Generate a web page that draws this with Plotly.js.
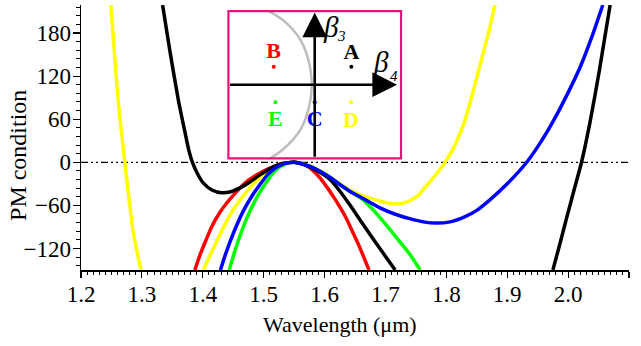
<!DOCTYPE html>
<html>
<head>
<meta charset="utf-8">
<script src="https://cdn.plot.ly/plotly-3.0.1.min.js"></script>
<style>
  html, body { margin: 0; padding: 0; background: #fff; }
  #chart { width: 641px; height: 346px; }
</style>
</head>
<body>
<div id="chart"></div>
<script>
// Curve A (black): left branch, local minimum, peak and descent
const blackX = [1.334, 1.346, 1.36, 1.37, 1.377, 1.383, 1.392, 1.401, 1.415, 1.431, 1.446, 1.461, 1.478, 1.494, 1.51, 1.527, 1.54, 1.55, 1.565, 1.578, 1.5925, 1.609, 1.625, 1.642, 1.658, 1.675, 1.695, 1.716];
const blackY = [219, 155, 86, 45, 17, 0, -17, -29, -38.5, -42.4, -41, -35.7, -27, -17.5, -9, -2.8, -0.5, 0, -2.8, -7.5, -14, -24, -40, -60, -80, -101, -125, -150];
// Curve A (black): right branch
const blackX2 = [1.975, 1.987, 1.998, 2.01, 2.022, 2.036, 2.051, 2.069];
const blackY2 = [-150, -112, -76, -38, 0, 56, 126, 219];

// Curve B (red)
const redX = [1.387, 1.395, 1.404, 1.415, 1.428, 1.44, 1.45, 1.461, 1.475, 1.494, 1.51, 1.527, 1.54, 1.55, 1.56, 1.57, 1.58, 1.5925, 1.605, 1.615, 1.625, 1.635, 1.645, 1.658, 1.673];
const redY = [-150, -130, -111, -89, -70, -56, -46, -36, -25, -15, -8, -2.6, -0.5, 0, -1.2, -4.5, -10.5, -21.8, -36, -48.5, -62, -77, -95, -119, -150];

// Curve C (blue)
const blueX = [1.429, 1.437, 1.445, 1.455, 1.4665, 1.48, 1.494, 1.506, 1.519, 1.532, 1.542, 1.55, 1.565, 1.578, 1.5925, 1.61, 1.625, 1.64, 1.658, 1.675, 1.691, 1.715, 1.74, 1.762, 1.784, 1.806, 1.83, 1.85, 1.872, 1.9, 1.932, 1.955, 1.976, 2.0, 2.02, 2.04, 2.057];
const blueY = [-150, -129, -110, -89, -68, -48, -31, -17.5, -7.9, -2.5, -0.5, 0, -2.5, -6.5, -12.5, -21.5, -31, -39.5, -48, -56, -63.5, -72, -78.5, -83, -84.7, -83, -76, -67, -52, -30, 0, 28, 58, 97, 133, 177, 219];

// Curve D (yellow): left branch
const yellowX1 = [1.249, 1.261, 1.272, 1.286, 1.2985];
const yellowY1 = [219, 86.5, 0, -98.6, -150];
// Curve D (yellow): main branch
const yellowX = [1.401, 1.41, 1.423, 1.433, 1.445, 1.46, 1.4775, 1.495, 1.51, 1.525, 1.54, 1.55, 1.565, 1.58, 1.5925, 1.61, 1.625, 1.64, 1.658, 1.675, 1.691, 1.705, 1.718, 1.73, 1.74, 1.755, 1.768, 1.783, 1.798, 1.81, 1.82, 1.83, 1.84, 1.855, 1.868, 1.88];
const yellowY = [-150, -133, -110, -92, -72.8, -54, -35.7, -20, -10.3, -4.5, -0.8, 0, -2.2, -6.5, -12, -21, -30, -38, -45, -50, -54, -57, -58, -56.5, -53.5, -45, -32, -17, 0, 17, 35, 57, 86, 134, 176, 219];

// Curve E (green)
const greenX = [1.4436, 1.45, 1.458, 1.467, 1.4775, 1.49, 1.502, 1.513, 1.524, 1.535, 1.543, 1.55, 1.565, 1.578, 1.5925, 1.61, 1.625, 1.64, 1.658, 1.675, 1.691, 1.705, 1.72, 1.74, 1.757];
const greenY = [-150, -131, -110, -89, -68, -47, -31, -17.5, -7.9, -2.5, -0.5, 0, -2.5, -6.5, -12.5, -21.5, -31, -39.5, -49, -62, -77, -91, -107, -128, -150];

// Inset: (beta4, beta3) plane
const boundX = [-0.533, -0.37, -0.262, -0.16, -0.1, -0.062, -0.042, -0.035, -0.042, -0.062, -0.1, -0.16, -0.262, -0.37, -0.513];
const boundY = [1, 0.88, 0.76, 0.6, 0.44, 0.28, 0.14, 0, -0.14, -0.28, -0.44, -0.6, -0.76, -0.88, -1];
const ptLabels = ['A', 'B', 'C', 'D', 'E'];
const ptX = [0.425, -0.475, 0, 0.42, -0.455];
const ptY = [0.244, 0.244, -0.24, -0.24, -0.24];
const labelY = [0.43, 0.44, -0.49, -0.5, -0.49];
const ptColors = ['#000000', '#ff0000', '#0000ff', '#ffff00', '#00ff00'];

const serif = 'Liberation Serif';

function curve(x, y, color) {
    return {
        x: x, y: y,
        type: 'scatter', mode: 'lines',
        line: { color: color, width: 3.5, shape: 'spline', smoothing: 0.6 },
        hoverinfo: 'skip'
    };
}

const data = [
    curve(yellowX1, yellowY1, '#ffff00'),
    curve(yellowX, yellowY, '#ffff00'),
    curve(greenX, greenY, '#00ff00'),
    curve(redX, redY, '#ff0000'),
    curve(blackX, blackY, '#000000'),
    curve(blackX2, blackY2, '#000000'),
    curve(blueX, blueY, '#0000ff'),
    {
        x: boundX, y: boundY, xaxis: 'x3', yaxis: 'y3',
        type: 'scatter', mode: 'lines',
        line: { color: '#bdbdbd', width: 2.5, shape: 'spline' }
    },
    {
        x: ptX, y: ptY, xaxis: 'x3', yaxis: 'y3',
        type: 'scatter', mode: 'markers',
        marker: { color: ptColors, size: 4 }
    },
    {
        x: ptX, y: labelY, xaxis: 'x3', yaxis: 'y3',
        type: 'scatter', mode: 'text',
        text: ptLabels.map(t => '<b>' + t + '</b>'),
        textposition: 'middle center',
        textfont: { family: serif, size: 22, color: ptColors }
    }
];

const xRange = [1.2, 2.1];
const yRange = [-150, 219];
const yTicks = [-120, -60, 0, 60, 120, 180];

const layout = {
    width: 641,
    height: 346,
    showlegend: false,
    paper_bgcolor: '#fff',
    plot_bgcolor: '#fff',
    margin: { l: 81, r: 12, t: 5, b: 76 },
    font: { family: serif, size: 22, color: '#000' },
    xaxis: {
        range: xRange, dtick: 0.1, tickformat: '.1f',
        ticks: 'outside', ticklen: 6, tickwidth: 1.2, tickcolor: '#000',
        minor: { dtick: 0.01, ticks: 'outside', ticklen: 3, tickwidth: 1, tickcolor: '#000' },
        showline: true, linecolor: '#000', linewidth: 1.5,
        showgrid: false, zeroline: false, ticklabelstandoff: -3,
        tickfont: { family: serif, size: 23, color: '#000' }
    },
    yaxis: {
        range: yRange, tickvals: yTicks,
        ticks: 'outside', ticklen: 7, tickwidth: 1.2, tickcolor: '#000',
        minor: { tick0: 0, dtick: 12, ticks: 'outside', ticklen: 3.5, tickwidth: 1, tickcolor: '#000' },
        showline: true, linecolor: '#000', linewidth: 1.5,
        showgrid: false, zeroline: false, ticklabelstandoff: -3,
        tickfont: { family: serif, size: 23, color: '#000' }
    },
    // frame on top and right, ticks pointing into the plot
    xaxis2: {
        overlaying: 'x', side: 'top', anchor: 'y', range: xRange, dtick: 0.1,
        ticks: 'inside', ticklen: 5, tickwidth: 1.2, tickcolor: '#000',
        minor: { dtick: 0.01, ticks: 'inside', ticklen: 2.5, tickwidth: 1, tickcolor: '#000' },
        showline: true, linecolor: '#000', linewidth: 1.5,
        showticklabels: false, showgrid: false, zeroline: false
    },
    yaxis2: {
        overlaying: 'y', side: 'right', anchor: 'x', range: yRange, tickvals: yTicks,
        ticks: 'inside', ticklen: 6, tickwidth: 1.2, tickcolor: '#000',
        minor: { tick0: 0, dtick: 12, ticks: 'inside', ticklen: 3, tickwidth: 1, tickcolor: '#000' },
        showline: true, linecolor: '#000', linewidth: 1.5,
        showticklabels: false, showgrid: false, zeroline: false
    },
    xaxis3: {
        domain: [0.269, 0.584], anchor: 'y3', range: [-1, 1],
        showticklabels: false, ticks: '', showgrid: false, zeroline: false, showline: false
    },
    yaxis3: {
        domain: [0.4215, 0.977], anchor: 'x3', range: [-1, 1],
        showticklabels: false, ticks: '', showgrid: false, zeroline: false, showline: false
    },
    shapes: [
        {
            type: 'line', xref: 'paper', x0: 0, x1: 1, yref: 'y', y0: 0, y1: 0,
            line: { color: '#000', width: 1.3, dash: '7px,3px,2px,3px,2px,3px' },
            layer: 'below'
        },
        {
            type: 'rect', xref: 'x3 domain', yref: 'y3 domain', x0: 0, x1: 1, y0: 0, y1: 1,
            line: { color: '#e8127f', width: 2.2 }
        }
    ],
    annotations: [
        {
            xref: 'x3', yref: 'y3', axref: 'x3', ayref: 'y3',
            x: 0.954, y: 0, ax: -1, ay: 0, text: '',
            showarrow: true, arrowhead: 2, arrowsize: 1.9, arrowwidth: 2.6, arrowcolor: '#000', standoff: 0
        },
        {
            xref: 'x3', yref: 'y3', axref: 'x3', ayref: 'y3',
            x: 0, y: 0.98, ax: 0, ay: -1, text: '',
            showarrow: true, arrowhead: 2, arrowsize: 1.9, arrowwidth: 2.6, arrowcolor: '#000', standoff: 0
        },
        {
            xref: 'x3', yref: 'y3', x: 0.193, y: 0.79, xanchor: 'center', yanchor: 'middle',
            text: '<i>β</i>', showarrow: false,
            font: { family: serif, size: 29, color: '#000' }
        },
        {
            xref: 'x3', yref: 'y3', x: 0.31, y: 0.655, xanchor: 'center', yanchor: 'middle',
            text: '<i>3</i>', showarrow: false,
            font: { family: serif, size: 15, color: '#000' }
        },
        {
            xref: 'x3', yref: 'y3', x: 0.772, y: 0.31, xanchor: 'center', yanchor: 'middle',
            text: '<i>β</i>', showarrow: false,
            font: { family: serif, size: 29, color: '#000' }
        },
        {
            xref: 'x3', yref: 'y3', x: 0.915, y: 0.12, xanchor: 'center', yanchor: 'middle',
            text: '<i>4</i>', showarrow: false,
            font: { family: serif, size: 15, color: '#000' }
        },
        {
            xref: 'paper', yref: 'paper', x: -0.115, y: 0.434,
            xanchor: 'center', yanchor: 'middle', textangle: -90,
            text: 'PM condition', showarrow: false,
            font: { family: serif, size: 24 }
        },
        {
            xref: 'paper', yref: 'paper', x: 0.4726, y: -0.2075,
            xanchor: 'center', yanchor: 'middle',
            text: 'Wavelength (μm)', showarrow: false,
            font: { family: serif, size: 22 }
        }
    ]
};

Plotly.newPlot('chart', data, layout, { staticPlot: true, displayModeBar: false });
</script>
</body>
</html>
